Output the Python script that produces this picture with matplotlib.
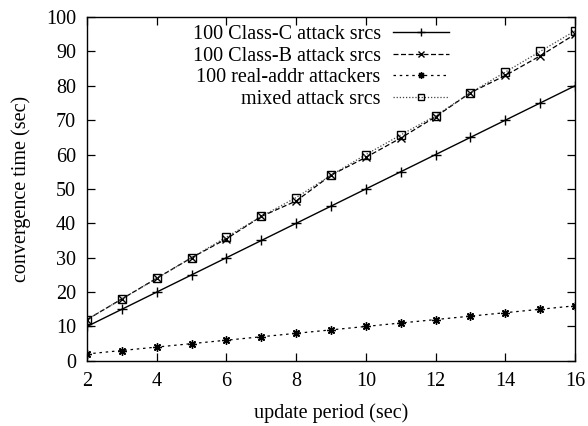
import matplotlib.pyplot as plt
import numpy as np

plt.rcParams['font.family'] = ['Liberation Serif', 'DejaVu Serif']

# update period (sec)
period = np.arange(2, 17)

class_c = [10, 15, 20, 25, 30, 35, 40, 45, 50, 55, 60, 65, 70, 75, 80]
class_b = [12, 18, 24, 30, 35.5, 42, 46.5, 54, 59.2, 64.8, 71, 78, 83, 88.7, 95]
real_addr = [2, 3, 4, 5, 6, 7, 8, 9, 10, 11, 12, 13, 14, 15, 16]
mixed = [12, 18, 24, 30, 36, 42, 47.5, 54, 60, 65.7, 71.3, 78, 84, 90, 96]

FS = 14.5

fig = plt.figure(figsize=(5.88, 4.26), dpi=100)
ax = fig.add_axes([0.148, 0.153, 0.830, 0.807])

ax.plot(period, class_c, color='black', lw=1.0, ls='-', marker='+', ms=7, mew=1.0,
        label='100 Class-C attack srcs')
ax.plot(period, class_b, color='black', lw=0.9, ls=(0, (4, 2)), marker='x', ms=5.5, mew=1.0,
        label='100 Class-B attack srcs')
ax.plot(period, real_addr, color='black', lw=0.9, ls=(0, (2, 3)), marker=(8, 2, 0), ms=6, mew=1.0,
        label='100 real-addr attackers')
ax.plot(period, mixed, color='#444444', lw=0.9, ls=(0, (1, 1.5)), marker='s', ms=6, mew=1.0,
        mfc='none', mec='black', label='mixed attack srcs')

ax.set_xlim(2, 16)
ax.set_ylim(0, 100)
ax.set_xticks(np.arange(2, 17, 2))
ax.set_yticks(np.arange(0, 101, 10))
ax.tick_params(direction='in', length=6, width=0.9, top=True, right=True, labelsize=FS, pad=8)
for s in ax.spines.values():
    s.set_linewidth(1.0)

ax.set_xlabel('update period (sec)', fontsize=FS, labelpad=9)
ax.set_ylabel('convergence time (sec)', fontsize=FS, labelpad=11)

ax.legend(loc='upper right', bbox_to_anchor=(0.742, 0.977), frameon=False, markerfirst=False,
          fontsize=FS, handlelength=2.8, handletextpad=0.6, labelspacing=0.12,
          borderaxespad=0, borderpad=0, markerscale=0.8)

fig.savefig('out.png', dpi=100)
